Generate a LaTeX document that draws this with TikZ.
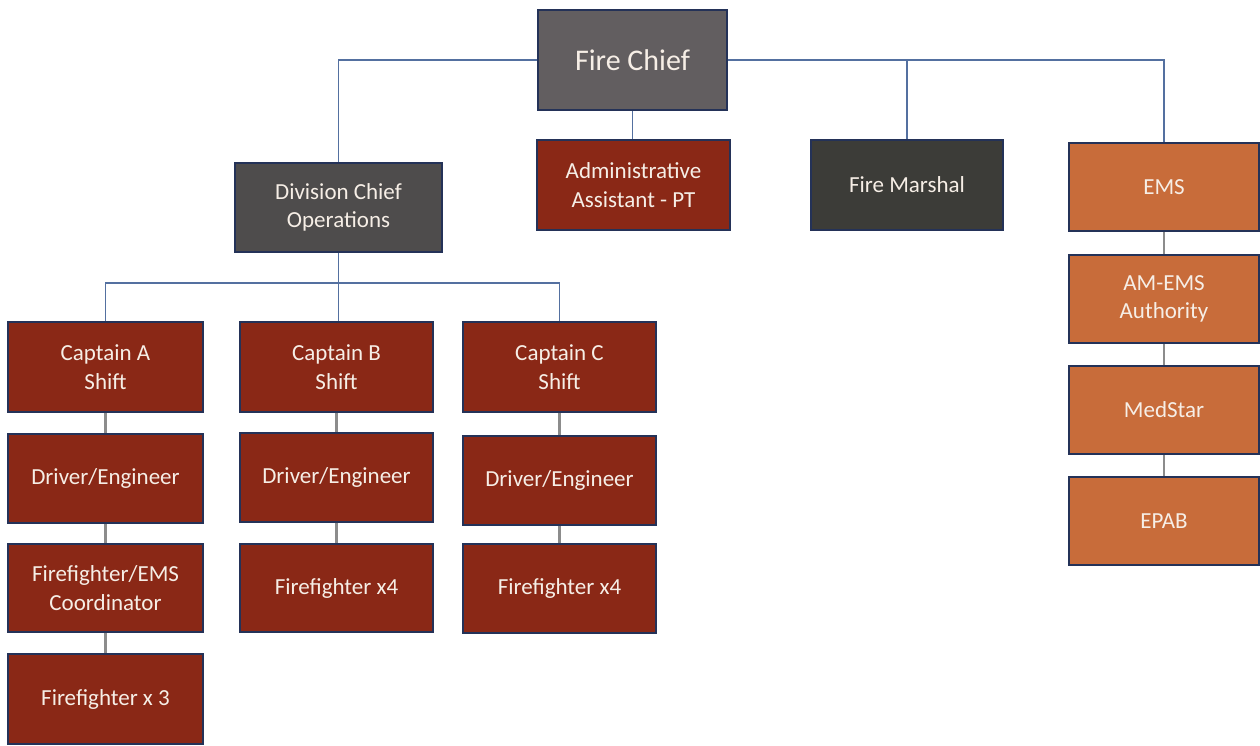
\documentclass[tikz,border=0pt]{standalone}
\usepackage{fontspec}
\setmainfont{Carlito}
\definecolor{chiefgray}{RGB}{98,94,96}
\definecolor{divgray}{RGB}{78,76,76}
\definecolor{marshgray}{RGB}{60,60,56}
\definecolor{boxred}{RGB}{138,40,22}
\definecolor{boxorange}{RGB}{200,108,58}
\definecolor{bordernavy}{RGB}{36,50,88}
\definecolor{linkblue}{RGB}{84,112,160}
\definecolor{linkgray}{RGB}{140,140,140}
\definecolor{txtcream}{RGB}{246,238,230}
\tikzset{
  orgbox/.style={draw=bordernavy, line width=2pt, inner sep=0pt, align=center,
    text=txtcream, font=\fontsize{23}{28.5}\selectfont},
  redbox/.style={orgbox, fill=boxred},
  orangebox/.style={orgbox, fill=boxorange},
  toplink/.style={draw=linkblue, line width=1.8pt},
  collink/.style={draw=linkgray, line width=2.4pt},
}
\begin{document}
\begin{tikzpicture}[x=1pt,y=-1pt]
\useasboundingbox (0,0) rectangle (1260,745);
\fill[white] (0,0) rectangle (1260,745);
% top level
\node[orgbox, fill=chiefgray, minimum width=189pt, minimum height=100pt,
  font=\fontsize{30}{36}\selectfont] (chief) at (632.5,60) {Fire Chief};
\node[orgbox, fill=divgray, minimum width=207pt, minimum height=89pt] (div) at (338.5,207.5) {Division Chief\\Operations};
\node[redbox, minimum width=193pt, minimum height=90pt] (admin) at (633.5,185) {Administrative\\Assistant - PT};
\node[orgbox, fill=marshgray, minimum width=192pt, minimum height=90pt] (marshal) at (907,185) {Fire Marshal};
% EMS column
\node[orangebox, minimum width=190pt, minimum height=88pt] (ems) at (1164,187) {EMS};
\node[orangebox, minimum width=190pt, minimum height=88pt] (amems) at (1164,299) {AM-EMS\\Authority};
\node[orangebox, minimum width=190pt, minimum height=88pt] (medstar) at (1164,410) {MedStar};
\node[orangebox, minimum width=190pt, minimum height=88pt] (epab) at (1164,521) {EPAB};
% captains
\node[redbox, minimum width=195pt, minimum height=90pt] (capA) at (105.5,367) {Captain A\\Shift};
\node[redbox, minimum width=193pt, minimum height=90pt] (capB) at (336.5,367) {Captain B\\Shift};
\node[redbox, minimum width=193pt, minimum height=90pt] (capC) at (559.5,367) {Captain C\\Shift};
\node[redbox, minimum width=195pt, minimum height=89pt] (drvA) at (105.5,478.5) {Driver/Engineer};
\node[redbox, minimum width=193pt, minimum height=89pt] (drvB) at (336.5,477.5) {Driver/Engineer};
\node[redbox, minimum width=193pt, minimum height=89pt] (drvC) at (559.5,480.5) {Driver/Engineer};
\node[redbox, minimum width=195pt, minimum height=88pt] (ffems) at (105.5,588) {Firefighter/EMS\\Coordinator};
\node[redbox, minimum width=193pt, minimum height=88pt] (ffB) at (336.5,588) {Firefighter x4};
\node[redbox, minimum width=193pt, minimum height=89pt] (ffC) at (559.5,588.5) {Firefighter x4};
\node[redbox, minimum width=195pt, minimum height=90pt] (ff3) at (105.5,699) {Firefighter x 3};
% connectors
\coordinate (bar) at (338,283);
\draw[toplink] (div.north) |- (chief.west);
\draw[toplink] (chief.east) -| (ems.north);
\draw[toplink] (marshal.north) -- (marshal.north |- chief.east);
\draw[toplink] (chief.south) -- (chief.south |- admin.north);
\draw[toplink] (div.south) -- (div.south |- capB.north);
\draw[toplink] (capA.north) |- (bar) -| (capC.north);
\draw[collink] (capA.south) -- (drvA.north);
\draw[collink] (drvA.south) -- (ffems.north);
\draw[collink] (ffems.south) -- (ff3.north);
\draw[collink] (capB.south) -- (drvB.north);
\draw[collink] (drvB.south) -- (ffB.north);
\draw[collink] (capC.south) -- (drvC.north);
\draw[collink] (drvC.south) -- (ffC.north);
\draw[collink] (ems.south) -- (amems.north);
\draw[collink] (amems.south) -- (medstar.north);
\draw[collink] (medstar.south) -- (epab.north);
\end{tikzpicture}
\end{document}
